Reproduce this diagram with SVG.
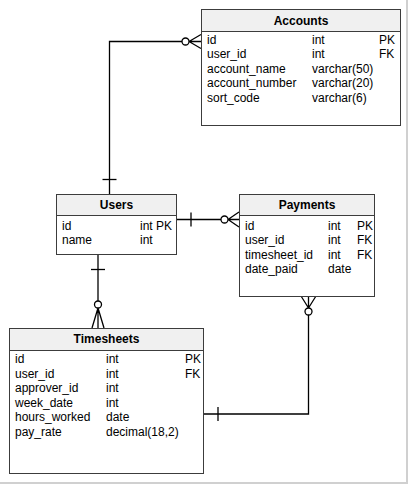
<svg xmlns="http://www.w3.org/2000/svg" width="408" height="484" viewBox="0 0 408 484">
<style>
.box{fill:#fff;stroke:#3c3c3c;stroke-width:1}
.hdr{fill:#f0f0f0;stroke:#3c3c3c;stroke-width:1}
.t{font-family:"Liberation Sans",Arial,sans-serif;font-size:12px;fill:#000}
.h{font-family:"Liberation Sans",Arial,sans-serif;font-size:12px;font-weight:bold;fill:#000;text-anchor:middle}
.c{fill:none;stroke:#000;stroke-width:1.3}
.o{fill:#fff;stroke:#000;stroke-width:1.3}
</style>
<rect x="0" y="0" width="408" height="484" fill="#fff"/>
<line x1="407" y1="0" x2="407" y2="484" stroke="#d0d0d0" stroke-width="2"/>
<line x1="0" y1="483" x2="408" y2="483" stroke="#d0d0d0" stroke-width="2"/>

<g id="connectors">
  <!-- Users -> Accounts -->
  <polyline class="c" points="109.5,194 109.5,41.5 182,41.5"/>
  <line class="c" x1="102.5" y1="179.5" x2="116.5" y2="179.5"/>
  <path class="c" d="M189,41.5 L201,34.5 M189,41.5 L201,41.5 M189,41.5 L201,48.5"/>
  <circle class="o" cx="185.5" cy="41.5" r="3.5"/>
  <!-- Users -> Payments -->
  <line class="c" x1="176" y1="219.5" x2="221" y2="219.5"/>
  <line class="c" x1="191" y1="212.5" x2="191" y2="226.5"/>
  <path class="c" d="M228,219.5 L239,212 M228,219.5 L239,219.5 M228,219.5 L239,227"/>
  <circle class="o" cx="224.5" cy="219.5" r="3.5"/>
  <!-- Users -> Timesheets -->
  <line class="c" x1="98" y1="254" x2="98" y2="301"/>
  <line class="c" x1="91" y1="269.5" x2="105" y2="269.5"/>
  <path class="c" d="M98,308 L92,328 M98,308 L98,328 M98,308 L104,328"/>
  <circle class="o" cx="98" cy="304.5" r="3.5"/>
  <!-- Timesheets -> Payments -->
  <polyline class="c" points="203,414 308.5,414 308.5,315"/>
  <line class="c" x1="218" y1="407" x2="218" y2="421"/>
  <path class="c" d="M308.5,308 L301,296 M308.5,308 L308.5,296 M308.5,308 L316,296"/>
  <circle class="o" cx="308.5" cy="311.5" r="3.5"/>
</g>

<g id="accounts">
  <rect class="box" x="201.5" y="9.5" width="199" height="116"/>
  <rect class="hdr" x="201.5" y="9.5" width="199" height="22"/>
  <text class="h" x="301" y="24.5">Accounts</text>
  <text class="t" x="207" y="43.5">id</text><text class="t" x="312" y="43.5">int</text><text class="t" x="379" y="43.5">PK</text>
  <text class="t" x="207" y="58">user_id</text><text class="t" x="312" y="58">int</text><text class="t" x="379" y="58">FK</text>
  <text class="t" x="207" y="72.5">account_name</text><text class="t" x="312" y="72.5">varchar(50)</text>
  <text class="t" x="207" y="87">account_number</text><text class="t" x="312" y="87">varchar(20)</text>
  <text class="t" x="207" y="101.5">sort_code</text><text class="t" x="312" y="101.5">varchar(6)</text>
</g>

<g id="users">
  <rect class="box" x="56.5" y="194.5" width="120" height="60"/>
  <rect class="hdr" x="56.5" y="194.5" width="120" height="21"/>
  <text class="h" x="116.5" y="209">Users</text>
  <text class="t" x="62" y="229.5">id</text><text class="t" x="140" y="229.5">int PK</text>
  <text class="t" x="62" y="244">name</text><text class="t" x="140" y="244">int</text>
</g>

<g id="payments">
  <rect class="box" x="239.5" y="194.5" width="135" height="102"/>
  <rect class="hdr" x="239.5" y="194.5" width="135" height="21"/>
  <text class="h" x="307" y="209">Payments</text>
  <text class="t" x="245" y="229.5">id</text><text class="t" x="328" y="229.5">int</text><text class="t" x="357" y="229.5">PK</text>
  <text class="t" x="245" y="244">user_id</text><text class="t" x="328" y="244">int</text><text class="t" x="357" y="244">FK</text>
  <text class="t" x="245" y="258.5">timesheet_id</text><text class="t" x="328" y="258.5">int</text><text class="t" x="357" y="258.5">FK</text>
  <text class="t" x="245" y="273">date_paid</text><text class="t" x="328" y="273">date</text>
</g>

<g id="timesheets">
  <rect class="box" x="9.5" y="328.5" width="194" height="145"/>
  <rect class="hdr" x="9.5" y="328.5" width="194" height="22"/>
  <text class="h" x="106.5" y="343">Timesheets</text>
  <text class="t" x="15" y="363">id</text><text class="t" x="106" y="363">int</text><text class="t" x="185" y="363">PK</text>
  <text class="t" x="15" y="377.5">user_id</text><text class="t" x="106" y="377.5">int</text><text class="t" x="185" y="377.5">FK</text>
  <text class="t" x="15" y="392">approver_id</text><text class="t" x="106" y="392">int</text>
  <text class="t" x="15" y="406.5">week_date</text><text class="t" x="106" y="406.5">int</text>
  <text class="t" x="15" y="421">hours_worked</text><text class="t" x="106" y="421">date</text>
  <text class="t" x="15" y="435.5">pay_rate</text><text class="t" x="106" y="435.5">decimal(18,2)</text>
</g>
</svg>
